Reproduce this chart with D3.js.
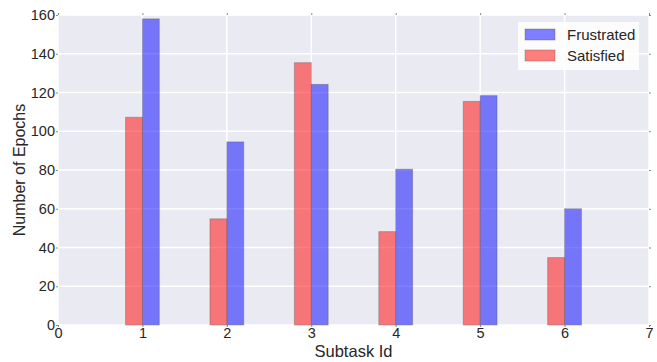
<!DOCTYPE html>
<html>
<head>
<meta charset="utf-8">
<script src="https://cdn.jsdelivr.net/npm/d3@7"></script>
<style>
    body { margin: 0; background: white; }
    text { font-family: "Liberation Sans", Arial, sans-serif; fill: #262626; }
</style>
</head>
<body>
<div id="chart"></div>
<script>
// Values
const subtasks = [1, 2, 3, 4, 5, 6];
const frustrated = [158, 94.5, 124.2, 80.4, 118.4, 60];
const satisfied = [107.2, 54.8, 135.4, 48.2, 115.4, 34.8];
const xTicks = [0, 1, 2, 3, 4, 5, 6, 7];
const yTicks = [0, 20, 40, 60, 80, 100, 120, 140, 160];
const seriesNames = ["Frustrated", "Satisfied"];

const totalWidth = 657, totalHeight = 362;
const margin = { top: 15, right: 8, bottom: 37, left: 58 };
const width = totalWidth - margin.left - margin.right;
const height = totalHeight - margin.top - margin.bottom;

const svg = d3.select("#chart")
    .append("svg")
    .attr("width", totalWidth)
    .attr("height", totalHeight)
    .append("g")
    .attr("transform", `translate(${margin.left},${margin.top})`);

const x = d3.scaleLinear().domain([0, 7]).range([0, width]);
const y = d3.scaleLinear().domain([0, 160]).range([height, 0]);

// background
svg.append("rect")
    .attr("width", width)
    .attr("height", height)
    .attr("fill", "#EAEAF2");

// grid lines
svg.selectAll(".hgrid")
    .data(yTicks)
    .enter()
    .append("line")
    .attr("x1", 0).attr("x2", width)
    .attr("y1", d => y(d)).attr("y2", d => y(d))
    .style("stroke", "white")
    .style("stroke-width", 1.5);

svg.selectAll(".vgrid")
    .data(xTicks)
    .enter()
    .append("line")
    .attr("x1", d => x(d)).attr("x2", d => x(d))
    .attr("y1", 0).attr("y2", height)
    .style("stroke", "white")
    .style("stroke-width", 1.5);

const barW = 0.2;

// Frustrated bars (right of tick)
svg.selectAll(".bar-f")
    .data(subtasks)
    .enter()
    .append("rect")
    .attr("x", d => x(d))
    .attr("width", x(barW) - x(0))
    .attr("y", (d, i) => y(frustrated[i]))
    .attr("height", (d, i) => height - y(frustrated[i]))
    .style("fill", "rgba(0,0,255,0.5)")
    .style("stroke", "rgba(80,80,80,0.35)")
    .style("stroke-width", 1);

// Satisfied bars (left of tick)
svg.selectAll(".bar-s")
    .data(subtasks)
    .enter()
    .append("rect")
    .attr("x", d => x(d - barW))
    .attr("width", x(barW) - x(0))
    .attr("y", (d, i) => y(satisfied[i]))
    .attr("height", (d, i) => height - y(satisfied[i]))
    .style("fill", "rgba(255,0,0,0.5)")
    .style("stroke", "rgba(80,80,80,0.35)")
    .style("stroke-width", 1);

// Axes
const xAxis = svg.append("g")
    .attr("transform", `translate(0,${height})`)
    .call(d3.axisBottom(x).tickValues(xTicks).tickSize(2).tickPadding(1).tickFormat(d3.format("d")));
xAxis.select(".domain").remove();
xAxis.selectAll("line").style("stroke", "#888");
xAxis.selectAll("text").style("font-size", "14.5px").style("fill", "#262626")
    .style("font-family", "Liberation Sans, Arial, sans-serif");

const topTicks = svg.append("g")
    .call(d3.axisTop(x).tickValues(xTicks).tickSize(2).tickFormat(""));
topTicks.select(".domain").remove();
topTicks.selectAll("line").style("stroke", "#888");

const yAxis = svg.append("g")
    .call(d3.axisLeft(y).tickValues(yTicks).tickSize(2).tickPadding(1));
yAxis.select(".domain").remove();
yAxis.selectAll("line").style("stroke", "#888");
yAxis.selectAll("text").style("font-size", "14.5px").style("fill", "#262626")
    .style("font-family", "Liberation Sans, Arial, sans-serif");

const rightTicks = svg.append("g")
    .attr("transform", `translate(${width},0)`)
    .call(d3.axisRight(y).tickValues(yTicks).tickSize(2).tickFormat(""));
rightTicks.select(".domain").remove();
rightTicks.selectAll("line").style("stroke", "#888");

// Axis labels
svg.append("text")
    .attr("x", width / 2)
    .attr("y", height + 32)
    .style("text-anchor", "middle")
    .style("font-size", "16.5px")
    .text("Subtask Id");

svg.append("text")
    .attr("transform", "rotate(-90)")
    .attr("x", -height / 2)
    .attr("y", -33)
    .style("text-anchor", "middle")
    .style("font-size", "16px")
    .text("Number of Epochs");

// Legend
const legend = svg.append("g")
    .attr("transform", `translate(${460},${7})`);

legend.append("rect")
    .attr("width", 121)
    .attr("height", 48)
    .style("fill", "rgba(255,255,255,0.85)");

const legendColors = ["rgba(0,0,255,0.5)", "rgba(255,0,0,0.5)"];
seriesNames.forEach((name, i) => {
    legend.append("rect")
        .attr("x", 7)
        .attr("y", 7 + i * 21)
        .attr("width", 30)
        .attr("height", 11)
        .style("fill", legendColors[i])
        .style("stroke", "rgba(80,80,80,0.35)");
    legend.append("text")
        .attr("x", 49)
        .attr("y", 18 + i * 21)
        .style("font-size", "15px")
        .text(name);
});
</script>
</body>
</html>
